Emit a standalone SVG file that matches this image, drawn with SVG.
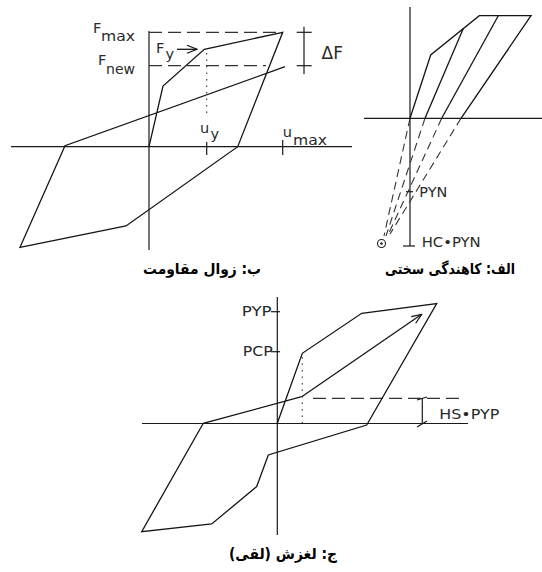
<svg xmlns="http://www.w3.org/2000/svg" width="542" height="572" viewBox="0 0 542 572">
<defs>
<style>
.ln{fill:none;stroke:#151515;stroke-width:1.3;stroke-linejoin:miter;stroke-linecap:butt}
.ax{fill:none;stroke:#1a1a1a;stroke-width:1.2}
.ds{fill:none;stroke:#333;stroke-width:1.2;stroke-dasharray:13 6}
.dsA{fill:none;stroke:#333;stroke-width:1.1;stroke-dasharray:8 5}
.dt{fill:none;stroke:#444;stroke-width:1.2;stroke-dasharray:1.5 5}
.lb{font-family:"DejaVu Sans","Liberation Sans",sans-serif;fill:#2a2a2a;font-size:14.5px}
.sm{font-family:"DejaVu Sans","Liberation Sans",sans-serif;fill:#2a2a2a;font-size:13.5px}
.ti{font-family:"DejaVu Sans",sans-serif;font-weight:bold;font-size:15px;fill:#000}
</style>
<marker id="oa" markerWidth="12" markerHeight="10" refX="11" refY="5" orient="auto" markerUnits="userSpaceOnUse">
<path d="M1,1 L11,5 L1,9" fill="none" stroke="#151515" stroke-width="1.2"/>
</marker>
</defs>
<rect width="542" height="572" fill="#fff"/>

<!-- Panel B: strength degradation -->
<g id="panelB">
<g id="B-axes">
<line class="ax" x1="11" y1="146.7" x2="352" y2="146.7"/>
<line class="ax" x1="149" y1="31" x2="149" y2="250"/>
<line class="ax" x1="206.7" y1="142" x2="206.7" y2="155"/>
<line class="ax" x1="282.7" y1="140" x2="282.7" y2="155"/>
</g>
<g id="B-guides">
<line class="ds" x1="149" y1="32.3" x2="282.7" y2="32.3"/>
<line class="ds" x1="149" y1="65.7" x2="266" y2="65.7"/>
<line class="dt" x1="206.7" y1="53" x2="206.7" y2="114"/>
</g>
<g id="B-dF">
<line class="ax" x1="304" y1="26.7" x2="304" y2="74"/>
<line class="ax" x1="296.7" y1="32.3" x2="311.7" y2="32.3"/>
<line class="ax" x1="296.7" y1="65.7" x2="311.7" y2="65.7"/>
<text class="lb" x="321.5" y="59.3" style="font-size:17px">ΔF</text>
</g>
<g id="B-curve">
<polyline class="ln" points="149,146.7 163,86 204.3,49.3 282.7,32.3 237.7,146.7 126,226 20,247.3 65,145.7 285,66.7"/>
<line class="ln" x1="177" y1="49.3" x2="197" y2="49.3" marker-end="url(#oa)"/>
</g>
<g id="B-labels">
<text class="lb" x="93" y="33">F</text>
<text class="lb" x="101" y="40.5" textLength="34" lengthAdjust="spacingAndGlyphs">max</text>
<text class="lb" x="98" y="65">F</text>
<text class="lb" x="106" y="73.5" textLength="29" lengthAdjust="spacingAndGlyphs">new</text>
<text class="lb" x="156" y="53">F</text>
<text class="lb" x="165.5" y="59">y</text>
<text class="lb" x="200" y="133">u</text>
<text class="lb" x="210.5" y="138.5">y</text>
<text class="lb" x="282.7" y="137">u</text>
<text class="lb" x="293" y="145" textLength="34" lengthAdjust="spacingAndGlyphs">max</text>
</g>
</g>

<!-- Panel A: stiffness degradation -->
<g id="panelA">
<g id="A-axes">
<line class="ax" x1="364" y1="118.3" x2="542" y2="118.3"/>
<line class="ax" x1="410" y1="7" x2="410" y2="246"/>
<line class="ax" x1="406" y1="191.7" x2="413" y2="191.7"/>
<line class="ax" x1="403" y1="246" x2="415" y2="246"/>
</g>
<g id="A-curve">
<polyline class="ln" points="410,118.3 430.7,55 479.3,15.7 531,15.7 461,118.3"/>
<line class="ln" x1="463.3" y1="28.6" x2="425" y2="118.3"/>
<line class="ln" x1="498.3" y1="15.7" x2="441.7" y2="118.3"/>
</g>
<g id="A-dashed">
<line class="dsA" x1="410" y1="118.3" x2="384" y2="236"/>
<line class="dsA" x1="425" y1="118.3" x2="386" y2="236"/>
<line class="dsA" x1="441.7" y1="118.3" x2="388" y2="235"/>
<line class="dsA" x1="461" y1="118.3" x2="390" y2="234"/>
</g>
<g id="A-pivot">
<circle cx="381.5" cy="243.5" r="4" fill="none" stroke="#222" stroke-width="1.1"/>
<circle cx="381.5" cy="243.5" r="1.3" fill="#222"/>
</g>
<g id="A-labels">
<text class="sm" x="419.3" y="196.7" textLength="28" lengthAdjust="spacingAndGlyphs">PYN</text>
<text class="sm" x="421.7" y="246.7" textLength="59" lengthAdjust="spacingAndGlyphs">HC•PYN</text>
</g>
</g>

<!-- Panel C: pinching / slip -->
<g id="panelC">
<g id="C-axes">
<line class="ax" x1="142" y1="423.5" x2="468" y2="423.5"/>
<line class="ax" x1="277.3" y1="297" x2="277.3" y2="535"/>
<line class="ax" x1="271" y1="311.7" x2="280" y2="311.7"/>
<line class="ax" x1="271" y1="351.7" x2="280" y2="351.7"/>
</g>
<g id="C-guides">
<line class="dt" x1="302.3" y1="357" x2="302.3" y2="423"/>
<line class="ds" x1="313" y1="398.3" x2="462" y2="398.3"/>
<line class="ax" x1="422.3" y1="398.3" x2="422.3" y2="424"/>
<line class="ax" x1="417" y1="400" x2="427" y2="397"/>
<line class="ax" x1="417" y1="427" x2="427" y2="421"/>
</g>
<g id="C-curve">
<polyline class="ln" points="277.3,423.3 302.3,353.3 361.7,313.3 436.7,303.5 366.7,425 268.3,455 256.7,486.5 211.7,524 141.7,531.7 203.3,423.3 301.7,396.7"/>
<line class="ln" x1="301.7" y1="396.7" x2="421.7" y2="314.3" marker-end="url(#oa)"/>
</g>
<g id="C-labels">
<text class="sm" x="241.7" y="315.5" textLength="30" lengthAdjust="spacingAndGlyphs">PYP</text>
<text class="sm" x="242.7" y="355.5" textLength="30" lengthAdjust="spacingAndGlyphs">PCP</text>
<text class="sm" x="439.3" y="418.5" textLength="60" lengthAdjust="spacingAndGlyphs">HS•PYP</text>
</g>
</g>

<!-- Captions -->
<g id="captions">
<text class="ti" x="450" y="274" text-anchor="middle" direction="rtl" textLength="130" lengthAdjust="spacingAndGlyphs">الف: کاهندگی سختی</text>
<text class="ti" x="202" y="274" text-anchor="middle" direction="rtl" textLength="118" lengthAdjust="spacingAndGlyphs">ب: زوال مقاومت</text>
<text class="ti" x="283" y="559" text-anchor="middle" direction="rtl" textLength="108" lengthAdjust="spacingAndGlyphs">ج: لغزش (لقی)</text>
</g>
</svg>
